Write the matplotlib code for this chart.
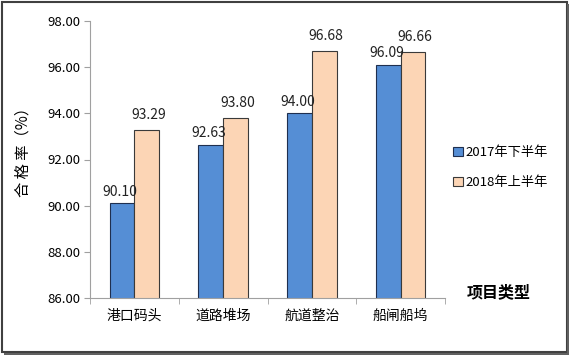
import numpy as np
import matplotlib.pyplot as plt
from matplotlib.patches import Rectangle

plt.rcParams['font.family'] = ['Noto Sans CJK SC', 'DejaVu Sans']

categories = ['港口码头', '道路堆场', '航道整治', '船闸船坞']
h2_2017 = [90.10, 92.63, 94.00, 96.09]
h1_2018 = [93.29, 93.80, 96.68, 96.66]
series_names = ['2017年下半年', '2018年上半年']
yticks = [86, 88, 90, 92, 94, 96, 98]

fig = plt.figure(figsize=(5.71, 3.56), dpi=100)
ax = fig.add_axes([90/571, 1-298/356, (445-90)/571, (298-21)/356])

x = np.arange(len(categories))
w = 0.28
ax.bar(x - w/2, h2_2017, w, color='#558ED5', edgecolor='#1F2F4F', linewidth=0.8, label=series_names[0])
ax.bar(x + w/2, h1_2018, w, color='#FCD5B5', edgecolor='#3A3A3A', linewidth=0.8, label=series_names[1])

for xi, v in zip(x, h2_2017):
    ax.text(xi - w/2 - 0.02, v + 0.2, f'{v:.2f}', ha='center', va='bottom', fontsize=10, color='#222222')
for xi, v in zip(x, h1_2018):
    ax.text(xi + w/2 + 0.02, v + 0.35, f'{v:.2f}', ha='center', va='bottom', fontsize=10, color='#222222')

ax.set_ylim(86, 98)
ax.set_xlim(-0.5, len(categories) - 0.5)
ax.set_yticks(yticks)
ax.set_yticklabels([f'{t:.2f}' for t in yticks], fontsize=9.5)
ax.set_xticks(x)
ax.set_xticklabels(categories, fontsize=10)
ax.set_xticks(np.arange(-0.5, len(categories)), minor=True)
ax.tick_params(axis='x', which='major', length=0, pad=8)
ax.tick_params(axis='x', which='minor', length=4, color='#A0A0A0')
ax.tick_params(axis='y', length=4, color='#A0A0A0', pad=3)
for s in ['top', 'right']:
    ax.spines[s].set_visible(False)
for s in ['left', 'bottom']:
    ax.spines[s].set_color('#A0A0A0')

fig.text(23/571, 1-148/356, '合 格 率（%）', rotation=90, ha='center', va='center', fontsize=11)
fig.text(499/571, 1-292/356, '项目类型', ha='center', va='center', fontsize=11.5, fontweight='bold')

ax.legend(loc='center left', bbox_to_anchor=(0.99, 0.47), frameon=False, fontsize=9.5,
          handlelength=0.7, handleheight=0.7, handletextpad=0.25, labelspacing=1.3)

fig.patches.append(Rectangle((2/571, 4/356), 565/571, 350/356, transform=fig.transFigure,
                             fill=False, edgecolor='#404040', linewidth=1.5))
fig.patches.append(Rectangle((567/571, 2/356), 2/571, 350/356, transform=fig.transFigure,
                             facecolor='#606060', edgecolor='none'))
fig.patches.append(Rectangle((4/571, 1/356), 565/571, 2/356, transform=fig.transFigure,
                             facecolor='#606060', edgecolor='none'))

fig.savefig('out.png', dpi=100)
